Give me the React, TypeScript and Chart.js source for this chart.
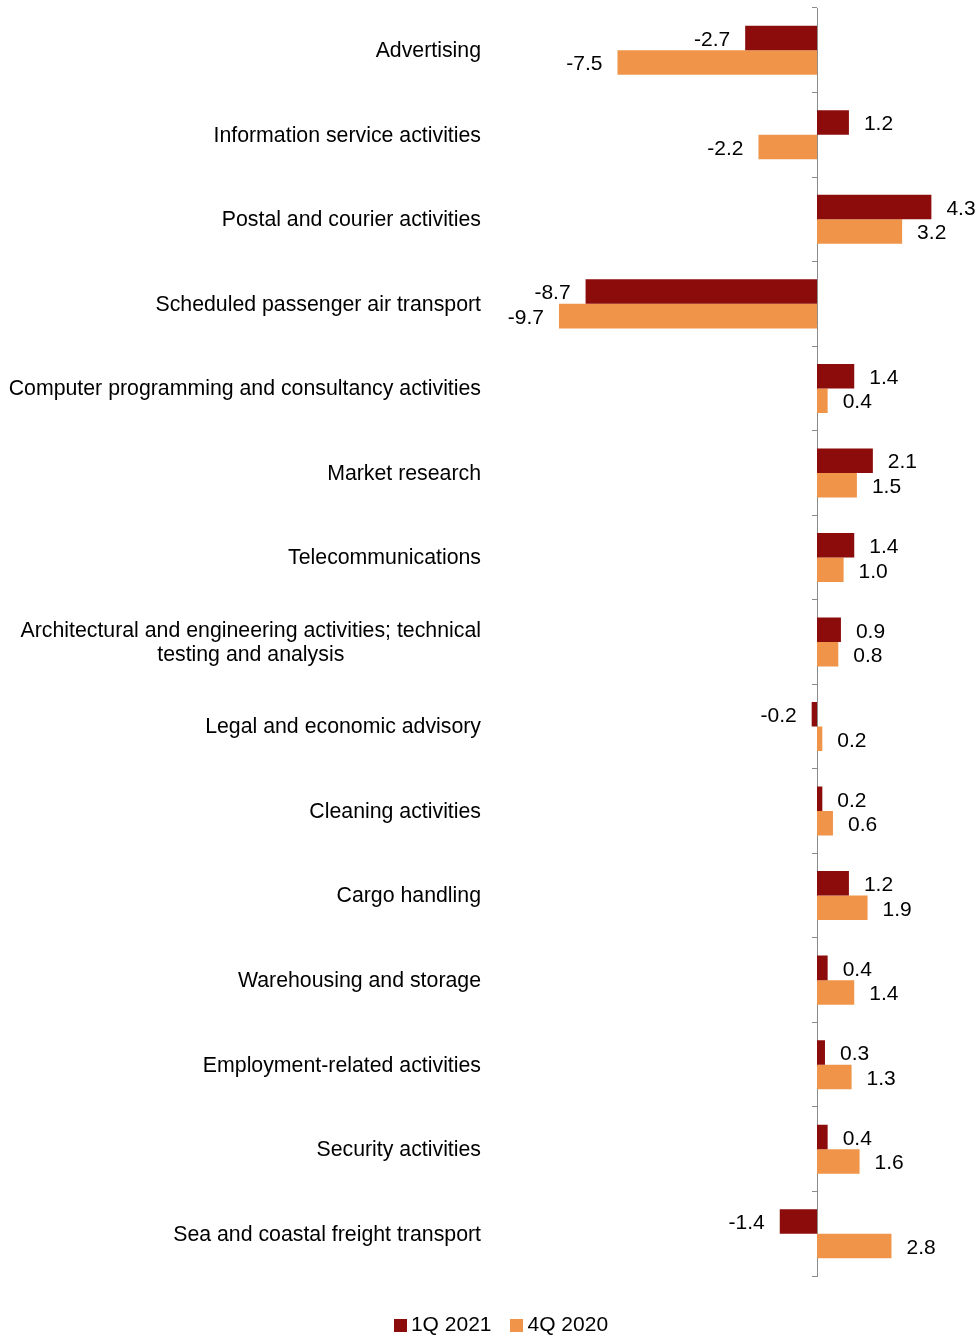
import React, { useEffect, useRef } from "react";
import { Chart, registerables } from "chart.js";

Chart.register(...registerables);

const categories: (string | string[])[] = [
  "Advertising",
  "Information service activities",
  "Postal and courier activities",
  "Scheduled passenger air transport",
  "Computer programming and consultancy activities",
  "Market research",
  "Telecommunications",
  ["Architectural and engineering activities; technical", "testing and analysis"],
  "Legal and economic advisory",
  "Cleaning activities",
  "Cargo handling",
  "Warehousing and storage",
  "Employment-related activities",
  "Security activities",
  "Sea and coastal freight transport",
];

const series1Label = "1Q 2021";
const series1Values = [-2.7, 1.2, 4.3, -8.7, 1.4, 2.1, 1.4, 0.9, -0.2, 0.2, 1.2, 0.4, 0.3, 0.4, -1.4];

const series2Label = "4Q 2020";
const series2Values = [-7.5, -2.2, 3.2, -9.7, 0.4, 1.5, 1.0, 0.8, 0.2, 0.6, 1.9, 1.4, 1.3, 1.6, 2.8];

const X_MIN = -10;
const X_MAX = 6;

const FONT = "Arial, 'Liberation Sans', sans-serif";
const FONT_SIZE = 21;
const CAT_FONT_SIZE = 21.3;
const COLOR1 = "#8C0B0B";
const COLOR2 = "#EF9448";
const AXIS_COLOR = "#8C8C8C";
const PAD_LEFT = 31.4;

function makeSquare(color: string) {
  const c = document.createElement("canvas");
  c.width = 13;
  c.height = 13;
  const g = c.getContext("2d");
  if (g) {
    g.fillStyle = color;
    g.fillRect(0, 0, 13, 13);
  }
  return c;
}

const labelPlugin = {
  id: "customLabels",
  afterDatasetsDraw(chart: any) {
    const ctx = chart.ctx;
    const yScale = chart.scales.y;
    ctx.save();
    ctx.fillStyle = "#000";
    ctx.textBaseline = "middle";
    ctx.font = `${CAT_FONT_SIZE}px ${FONT}`;
    const right = yScale.right - 70;
    const lineH = 24;
    categories.forEach((lab, i) => {
      const py = yScale.getPixelForValue(i) + 1;
      if (Array.isArray(lab)) {
        const widths = lab.map((l) => ctx.measureText(l).width);
        const maxW = Math.max(...widths);
        const cx = right - maxW / 2;
        ctx.textAlign = "center";
        const startY = py - ((lab.length - 1) * lineH) / 2;
        lab.forEach((l, j) => ctx.fillText(l, cx, startY + j * lineH));
      } else {
        ctx.textAlign = "right";
        ctx.fillText(lab, right, py);
      }
    });
    ctx.font = `${FONT_SIZE}px ${FONT}`;
    chart.data.datasets.forEach((ds: any, di: number) => {
      const meta = chart.getDatasetMeta(di);
      meta.data.forEach((bar: any, i: number) => {
        const v = ds.data[i];
        const { x, y } = bar.getProps(["x", "y"], true);
        const txt = v.toFixed(1);
        if (v >= 0) {
          ctx.textAlign = "left";
          ctx.fillText(txt, x + 15, y + 2);
        } else {
          ctx.textAlign = "right";
          ctx.fillText(txt, x - 15, y + 2);
        }
      });
    });
    ctx.restore();
  },
};

export default function App() {
  const ref = useRef<HTMLCanvasElement | null>(null);
  useEffect(() => {
    if (!ref.current) return;
    const squares = [makeSquare(COLOR1), makeSquare(COLOR2)];
    const chart = new Chart(ref.current, {
      type: "bar",
      data: {
        labels: categories as any,
        datasets: [
          {
            label: series1Label,
            data: series1Values,
            backgroundColor: COLOR1,
            borderColor: COLOR1,
            borderWidth: 0,
            categoryPercentage: 0.58,
            barPercentage: 1.0,
          },
          {
            label: series2Label,
            data: series2Values,
            backgroundColor: COLOR2,
            borderColor: COLOR2,
            borderWidth: 0,
            categoryPercentage: 0.58,
            barPercentage: 1.0,
          },
        ],
      },
      options: {
        indexAxis: "y",
        animation: false,
        responsive: true,
        maintainAspectRatio: false,
        layout: { padding: { left: PAD_LEFT, right: 2.4, top: 8, bottom: 0 } },
        plugins: {
          tooltip: { enabled: false },
          legend: {
            position: "bottom",
            maxHeight: 46.5,
            labels: {
              boxWidth: 13,
              boxHeight: 13,
              usePointStyle: true,
              pointStyleWidth: 0.5,
              padding: 25,
              color: "#000",
              font: { size: FONT_SIZE, family: FONT, lineHeight: 1 },
              generateLabels: (c: any) => {
                const items = (Chart.defaults.plugins.legend.labels as any).generateLabels(c);
                items.forEach((it: any, i: number) => {
                  it.pointStyle = squares[i % squares.length];
                  it.lineWidth = 0;
                });
                return items;
              },
            },
          },
        },
        scales: {
          x: {
            type: "linear",
            min: X_MIN,
            max: X_MAX,
            display: true,
            grid: { display: false },
            border: { display: false },
            ticks: { display: false },
            afterFit: (scale: any) => {
              scale.height = 13.5;
            },
          },
          y: {
            type: "category",
            position: "left",
            display: true,
            grid: { display: false },
            border: { display: false },
            ticks: { display: false },
            afterFit: (scale: any) => {
              scale.width = 551 - PAD_LEFT;
            },
          },
          y2: {
            type: "category",
            position: { x: 0 } as any,
            offset: true,
            grid: {
              offset: true,
              drawOnChartArea: false,
              drawTicks: true,
              tickLength: 5,
              color: AXIS_COLOR,
              lineWidth: 1,
            },
            border: { display: true, color: AXIS_COLOR, width: 1 },
            ticks: { display: false },
          },
        },
      } as any,
      plugins: [labelPlugin],
    });
    return () => chart.destroy();
  }, []);
  return (
    <div style={{ position: "absolute", left: 0, top: 0, width: 979, height: 1336 }}>
      <canvas ref={ref} />
    </div>
  );
}
